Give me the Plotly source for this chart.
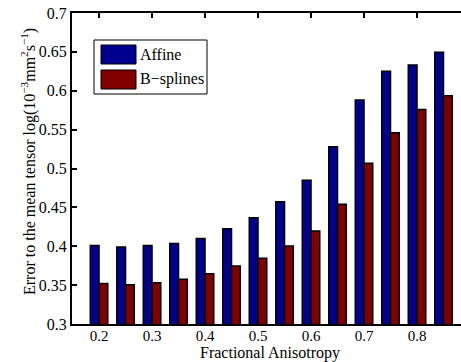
import plotly.graph_objects as go

fa = [0.2, 0.25, 0.3, 0.35, 0.4, 0.45, 0.5, 0.55, 0.6, 0.65, 0.7, 0.75, 0.8, 0.85]
affine = [0.401, 0.399, 0.401, 0.4035, 0.410, 0.4226, 0.4367, 0.4573, 0.485, 0.528, 0.588, 0.625, 0.633, 0.6495]
bsplines = [0.352, 0.3505, 0.353, 0.3575, 0.3647, 0.3746, 0.3845, 0.4003, 0.4196, 0.454, 0.5067, 0.546, 0.576, 0.5936]
xtick_vals = [0.2, 0.3, 0.4, 0.5, 0.6, 0.7, 0.8]
xtick_text = ["0.2", "0.3", "0.4", "0.5", "0.6", "0.7", "0.8"]
ytick_vals = [0.3, 0.35, 0.4, 0.45, 0.5, 0.55, 0.6, 0.65, 0.7]
ytick_text = ["0.3", "0.35", "0.4", "0.45", "0.5", "0.55", "0.6", "0.65", "0.7"]
series_names = ["Affine", "B\u2212splines"]
colors = ["#00008F", "#800000"]

FONT = "Liberation Serif, Times New Roman, DejaVu Serif, serif"
FS = 16
W, H = 461, 362
L, R, T, B = 72, 0, 13, 38
pw, ph = W - L - R, H - T - B

fig = go.Figure()
for name, vals, col in zip(series_names, [affine, bsplines], colors):
    fig.add_trace(go.Bar(x=fa, y=vals, name=name, marker=dict(color=col, line=dict(color="black", width=1.5)),
                         showlegend=False, hoverinfo="skip"))

# custom legend (paper coords)
def px(x):
    return (x - L) / pw

def py(y):
    return 1 - (y - T) / ph

shapes = [dict(type="rect", xref="paper", yref="paper", x0=px(94), x1=px(207), y0=py(94), y1=py(40),
               line=dict(color="black", width=1), fillcolor="white", layer="above")]
annotations = []
for i, (name, col) in enumerate(zip(series_names, colors)):
    top = 45 + i * 25
    shapes.append(dict(type="rect", xref="paper", yref="paper", x0=px(101), x1=px(136), y0=py(top + 19), y1=py(top),
                       line=dict(color="black", width=1), fillcolor=col, layer="above"))
    annotations.append(dict(xref="paper", yref="paper", x=px(138), y=py(top + 9.5), text=name, showarrow=False,
                            xanchor="left", yanchor="middle", font=dict(family=FONT, size=FS, color="black")))

annotations.append(dict(xref="paper", yref="paper", x=px(270), y=py(353), text="Fractional Anisotropy",
                        showarrow=False, xanchor="center", yanchor="middle",
                        font=dict(family=FONT, size=FS, color="black")))
annotations.append(dict(xref="paper", yref="paper", x=px(28), y=py(162),
                        text="Error to the mean tensor log(10<sup>\u22123</sup>mm<sup>2</sup>s<sup>\u22121</sup>)",
                        showarrow=False, xanchor="center", yanchor="middle", textangle=-90,
                        font=dict(family=FONT, size=FS, color="black")))

fig.update_layout(
    width=W, height=H, margin=dict(l=L, r=R, t=T, b=B),
    paper_bgcolor="white", plot_bgcolor="white",
    barmode="group", bargap=0.34, bargroupgap=0,
    font=dict(family=FONT, size=FS, color="black"),
    shapes=shapes, annotations=annotations,
    xaxis=dict(range=[0.149, 0.883], tickvals=xtick_vals, ticktext=xtick_text, ticks="inside", ticklen=5,
               tickwidth=1.5, tickcolor="black", showline=True, linecolor="black", linewidth=2,
               mirror="ticks", showgrid=False, zeroline=False, ticklabelstandoff=-3,
               tickfont=dict(family=FONT, size=15)),
    yaxis=dict(range=[0.3, 0.7], tickvals=ytick_vals, ticktext=ytick_text, ticks="inside", ticklen=5,
               tickwidth=1.5, tickcolor="black", showline=True, linecolor="black", linewidth=2,
               mirror=False, showgrid=False, zeroline=False, tickfont=dict(family=FONT, size=FS)),
)

fig.write_html("out.html", config={"displayModeBar": False},
               post_script="document.body.style.margin='0';document.body.style.overflow='hidden';")
